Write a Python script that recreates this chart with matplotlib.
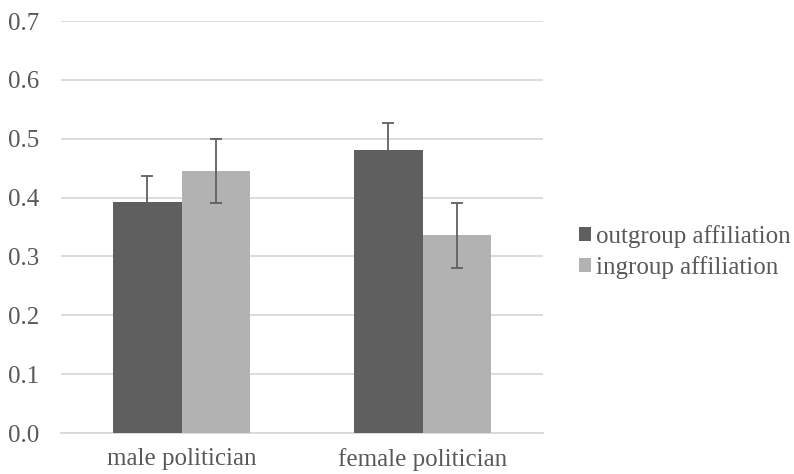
import matplotlib
matplotlib.use("Agg")
import matplotlib.pyplot as plt
import numpy as np

categories = ["male politician", "female politician"]
series_names = ["outgroup affiliation", "ingroup affiliation"]
outgroup = [0.392, 0.481]
ingroup = [0.445, 0.336]
outgroup_err = [0.045, 0.045]
ingroup_err = [0.055, 0.055]
yticks = [0.0, 0.1, 0.2, 0.3, 0.4, 0.5, 0.6, 0.7]

plt.rcParams['font.family'] = ['Liberation Serif', 'DejaVu Serif']

W, H = 794, 474
fig = plt.figure(figsize=(W/100, H/100), dpi=100)
ax = fig.add_axes([61/W, 1-433/H, (543-61)/W, (433-21)/H])

x = np.arange(len(categories))
bw = 0.283
colors = ["#5f5f5f", "#b2b2b2"]
ekw = dict(ecolor="#606060", elinewidth=1.3, capsize=4, capthick=1.3)
ax.bar(x - bw/2, outgroup, bw, color=colors[0], yerr=outgroup_err, error_kw=ekw,
       label=series_names[0], zorder=3)
ax.bar(x + bw/2, ingroup, bw, color=colors[1], yerr=ingroup_err, error_kw=ekw,
       label=series_names[1], zorder=3)

ax.set_xlim(-0.5, 1.5)
ax.set_ylim(0, 0.7)
ax.set_yticks(yticks)
ax.set_yticklabels([f"{v:.1f}" for v in yticks])
ax.set_xticks(x)
ax.set_xticklabels(categories)
ax.yaxis.grid(True, color="#d9d9d9", linewidth=1.3, zorder=0)
ax.set_axisbelow(True)
for s in ["top", "right", "left"]:
    ax.spines[s].set_visible(False)
ax.spines["bottom"].set_color("#d9d9d9")
ax.spines["bottom"].set_linewidth(1.3)
ax.tick_params(axis="both", length=0, labelsize=18, labelcolor="#595959")
ax.tick_params(axis="y", pad=16)
ax.tick_params(axis="x", pad=11)

leg = fig.legend(loc="center left", bbox_to_anchor=(556/W, 1-252/H), frameon=False,
                 fontsize=18, handlelength=0.5, handleheight=0.5, handletextpad=0.2,
                 labelspacing=0.3, labelcolor="#595959")

fig.savefig("out.png", dpi=100)
